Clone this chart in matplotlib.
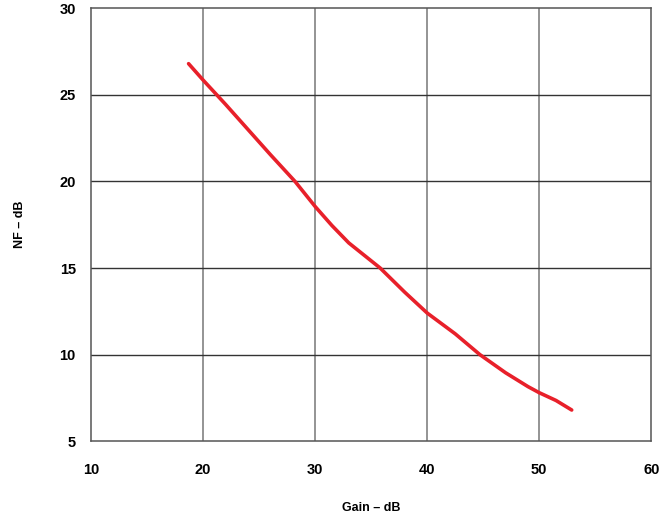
import matplotlib.pyplot as plt

plt.rcParams['font.family'] = ['Liberation Sans', 'DejaVu Sans']

gain_db = [18.7, 20.0, 22.0, 24.0, 26.0, 28.2, 30.0, 31.5, 33.0, 35.8, 38.0, 40.0, 42.5, 44.7, 47.0, 49.0, 50.0, 51.5, 52.9]
nf_db = [26.8, 25.85, 24.45, 23.0, 21.55, 20.0, 18.55, 17.45, 16.45, 15.0, 13.6, 12.4, 11.2, 10.0, 8.95, 8.15, 7.8, 7.35, 6.8]

x_ticks = [10, 20, 30, 40, 50, 60]
y_ticks = [5, 10, 15, 20, 25, 30]


def main():
    fig = plt.figure(figsize=(6.7, 5.16), dpi=100)
    ax = fig.add_axes([0.136, 0.145, 0.836, 0.839])

    for x in x_ticks[1:-1]:
        ax.axvline(x, color='#777777', lw=1.1, zorder=1)
    for y in y_ticks[1:-1]:
        ax.axhline(y, color='#333333', lw=1.0, zorder=1)

    ax.plot(gain_db, nf_db, color='#e8202a', lw=2.6, solid_capstyle='round',
            solid_joinstyle='round', zorder=3)

    ax.set_xlim(10, 60)
    ax.set_ylim(5, 30)
    ax.set_xticks(x_ticks)
    ax.set_yticks(y_ticks)
    ax.tick_params(length=0, labelsize=10.5)
    ax.tick_params(axis='x', pad=16)
    ax.tick_params(axis='y', pad=11)
    for lbl in ax.get_xticklabels() + ax.get_yticklabels():
        lbl.set_fontweight('bold')
    for s in ax.spines.values():
        s.set_color('#555555')
        s.set_linewidth(1.1)

    ax.set_xlabel('Gain – dB', fontsize=9, fontweight='bold', labelpad=18)
    ax.set_ylabel('NF – dB', fontsize=9, fontweight='bold', labelpad=24)

    fig.savefig('out.png')


if __name__ == '__main__':
    main()
